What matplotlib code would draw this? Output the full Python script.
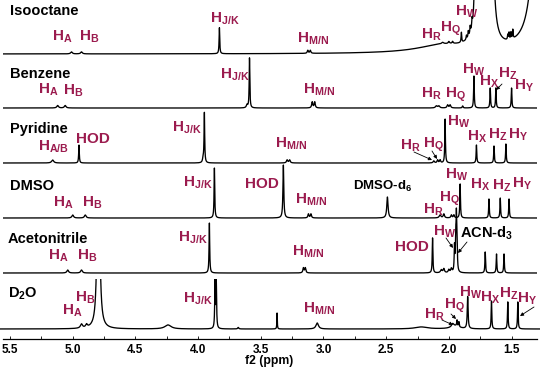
import numpy as np
import matplotlib.pyplot as plt
from matplotlib.patches import Rectangle
from matplotlib.ticker import MultipleLocator

plt.rcParams['font.family'] = ['Liberation Sans', 'DejaVu Sans']
plt.rcParams['font.weight'] = 'bold'
plt.rcParams['mathtext.fontset'] = 'custom'
plt.rcParams['mathtext.rm'] = 'Liberation Sans:bold'
plt.rcParams['mathtext.bf'] = 'Liberation Sans:bold'
plt.rcParams['mathtext.it'] = 'Liberation Sans:bold'

# peaks: (shift in ppm, height in px, half width in ppm)
iso_peaks = [(5.01, 2, 0.008), (4.93, 2, 0.008), (3.83, 26, 0.003),
             (3.125, 3, 0.005), (3.105, 3, 0.005), (2.05, 1.5, 0.01),
             (2.00, 2, 0.006), (1.97, 2, 0.005), (1.90, 10, 0.003),
             (1.86, 4, 0.003), (1.845, 6, 0.003), (1.83, 7, 0.003),
             (1.815, 8, 0.003), (1.80, 10, 0.003),
             (2.05, 8, 0.25), (1.76, 600, 0.01), (1.67, 700, 0.01),
             (1.26, 1500, 0.02),
             (1.53, 5, 0.003), (1.52, 7, 0.003), (1.505, 7, 0.003), (1.49, 9, 0.003)]
benz_peaks = [(5.12, 2.5, 0.008), (5.06, 2.5, 0.008), (3.61, 3, 0.006),
              (3.59, 50, 0.003), (3.09, 6, 0.005), (3.07, 6, 0.005),
              (2.10, 2, 0.008), (2.08, 2, 0.008), (2.01, 3, 0.006), (1.99, 3, 0.006),
              (1.89, 2, 0.004), (1.80, 32, 0.003), (1.67, 20, 0.003),
              (1.625, 20, 0.003), (1.50, 20, 0.003)]
pyr_peaks = [(5.16, 3, 0.01), (4.95, 18, 0.003), (3.96, 4, 0.005),
             (3.95, 50, 0.003), (3.29, 3, 0.006), (3.27, 3, 0.006),
             (2.12, 2, 0.006), (2.09, 3, 0.005), (2.07, 3, 0.005),
             (2.03, 44, 0.003), (1.78, 18, 0.003), (1.64, 17, 0.003),
             (1.545, 19, 0.003)]
dmso_peaks = [(5.00, 3, 0.008), (4.90, 3, 0.008), (3.87, 50, 0.003),
              (3.32, 53, 0.004), (3.12, 4, 0.005), (3.10, 4, 0.005),
              (2.49, 21, 0.006), (2.07, 3, 0.008), (2.04, 4, 0.006),
              (1.98, 3, 0.005), (1.96, 3, 0.005), (1.91, 34, 0.003),
              (1.68, 19, 0.003), (1.59, 20, 0.003), (1.52, 19, 0.003)]
acn_peaks = [(5.04, 3, 0.008), (4.93, 3, 0.008), (3.91, 50, 0.003),
             (3.16, 5, 0.005), (3.145, 5, 0.005), (2.13, 35, 0.003),
             (2.06, 3, 0.008), (2.04, 4, 0.006), (2.00, 3, 0.006), (1.98, 4, 0.006),
             (1.955, 25, 0.003), (1.945, 30, 0.003), (1.94, 48, 0.003),
             (1.935, 30, 0.003), (1.71, 21, 0.003), (1.62, 19, 0.003),
             (1.56, 19, 0.003)]
d2o_peaks = [(4.93, 4, 0.01), (4.89, 3, 0.008), (4.795, 312, 0.008),
             (4.24, 4, 0.03), (3.865, 46, 0.003), (3.855, 46, 0.003),
             (3.68, 1.5, 0.005), (3.37, 16, 0.002), (3.05, 6, 0.012),
             (2.22, 2, 0.06), (1.95, 3, 0.04), (1.97, 3, 0.01),
             (1.935, 6, 0.003), (1.92, 5, 0.003), (1.85, 32, 0.004),
             (1.66, 28, 0.003), (1.53, 27, 0.003), (1.45, 27, 0.003)]

solvents = ['Isooctane', 'Benzene', 'Pyridine', 'DMSO', 'Acetonitrile', 'D$_2$O']
all_peaks = [iso_peaks, benz_peaks, pyr_peaks, dmso_peaks, acn_peaks, d2o_peaks]
baselines = [285, 231, 176, 121, 66, 10]   # stacking offsets, px above the axis

W, H = 540, 370
MAROON = '#9b1b4e'
ppm = np.linspace(5.6, 1.2, 12000)


def spectrum(peaks):
    y = np.zeros_like(ppm)
    for p, h, w in peaks:
        y += h * w**2 / ((ppm - p)**2 + w**2)
    return y


fig = plt.figure(figsize=(W / 100, H / 100), dpi=100)
ax = fig.add_axes([3 / W, 1 - 339 / H, 534 / W, 339 / H])
ax.set_xlim(5.556, 1.297)
ax.set_ylim(0, 339)

for peaks, base in zip(all_peaks, baselines):
    line, = ax.plot(ppm, base + spectrum(peaks), color='black', lw=0.95)
    if base == baselines[-1]:
        # the big HOD peak in D2O is cut at the row above
        clip = Rectangle((1.2, 0), 4.5, 60, transform=ax.transData)
        line.set_clip_path(clip)

for s in ['top', 'left', 'right']:
    ax.spines[s].set_visible(False)
ax.spines['bottom'].set_linewidth(0.9)
ax.set_yticks([])
ax.xaxis.set_major_locator(MultipleLocator(0.5))
ax.xaxis.set_minor_locator(MultipleLocator(0.25))
ax.tick_params(axis='x', which='both', direction='in', length=2.5, width=0.6,
               pad=3.5, labelsize=8.5)
ax.set_xticklabels([f'{t:.1f}' for t in ax.get_xticks()], fontweight='bold')
fig.text(269 / W, 1 - 364 / H, 'f2 (ppm)', fontsize=8.8, ha='center', va='baseline')


def label(s, x, y, color=MAROON, size=11):
    fig.text(x / W, 1 - y / H, s, color=color, fontsize=size, ha='left', va='baseline')


def arrow(x0, y0, x1, y1):
    ax.annotate('', xy=(x1, H - y1), xycoords='figure pixels',
                xytext=(x0, H - y0), textcoords='figure pixels',
                arrowprops=dict(arrowstyle='-|>', color='black', lw=0.6,
                                mutation_scale=5, shrinkA=0, shrinkB=0))


name_pos = [(10, 15), (10, 78), (10, 133), (10, 190), (8, 243), (8, 298)]
for s, (x, y) in zip(solvents, name_pos):
    label(s, x, y, color='black', size=10.5)

HA, HB, HAB = r'H$_{\rm A}$', r'H$_{\rm B}$', r'H$_{\rm A/B}$'
HJK, HMN = r'H$_{\rm J/K}$', r'H$_{\rm M/N}$'
HR, HQ, HW = r'H$_{\rm R}$', r'H$_{\rm Q}$', r'H$_{\rm W}$'
HX, HY, HZ = r'H$_{\rm X}$', r'H$_{\rm Y}$', r'H$_{\rm Z}$'

h_labels = [
    (HA, 52, 41), (HB, 79, 41), (HJK, 210, 23), (HMN, 297, 43),
    (HR, 421, 39), (HQ, 440, 32), (HW, 455, 16),
    (HA, 38, 94), (HB, 63, 95), (HJK, 220, 79), (HMN, 303, 94),
    (HR, 421, 98), (HQ, 445, 98), (HW, 462, 74), (HX, 479, 86),
    (HZ, 498, 78), (HY, 514, 90),
    (HAB, 38, 151), ('HOD', 76, 143), (HJK, 172, 132), (HMN, 275, 148),
    (HR, 400, 150), (HQ, 423, 148), (HW, 447, 126), (HX, 467, 141),
    (HZ, 488, 139), (HY, 508, 139),
    (HA, 53, 207), (HB, 82, 207), (HJK, 183, 187), ('HOD', 245, 188),
    (HMN, 295, 204), (HR, 423, 214), (HQ, 439, 202), (HW, 445, 179),
    (HX, 470, 189), (HZ, 492, 190), (HY, 512, 188),
    (HA, 48, 260), (HB, 77, 260), (HJK, 178, 242), (HMN, 292, 256),
    ('HOD', 395, 251), (HW, 433, 236),
    (HB, 75, 302), (HA, 62, 315), (HJK, 183, 303), (HMN, 303, 313),
    (HR, 424, 319), (HQ, 444, 309), (HW, 459, 297), (HX, 480, 302),
    (HZ, 499, 298), (HY, 517, 303),
]
for s, x, y in h_labels:
    label(s, x, y)

label('DMSO-d$_6$', 353, 190, color='black', size=9.5)
label('ACN-d$_3$', 460, 238, color='black', size=10.5)

arrow(502, 84, 496, 90)
arrow(414, 152, 432, 160)
arrow(432, 151, 437, 159)
arrow(446, 238, 453, 248)
arrow(467, 242, 458, 253)
arrow(442, 320, 453, 325)
arrow(451, 314, 456, 319)
arrow(534, 307, 520, 316)

fig.savefig('out.png', dpi=100)
